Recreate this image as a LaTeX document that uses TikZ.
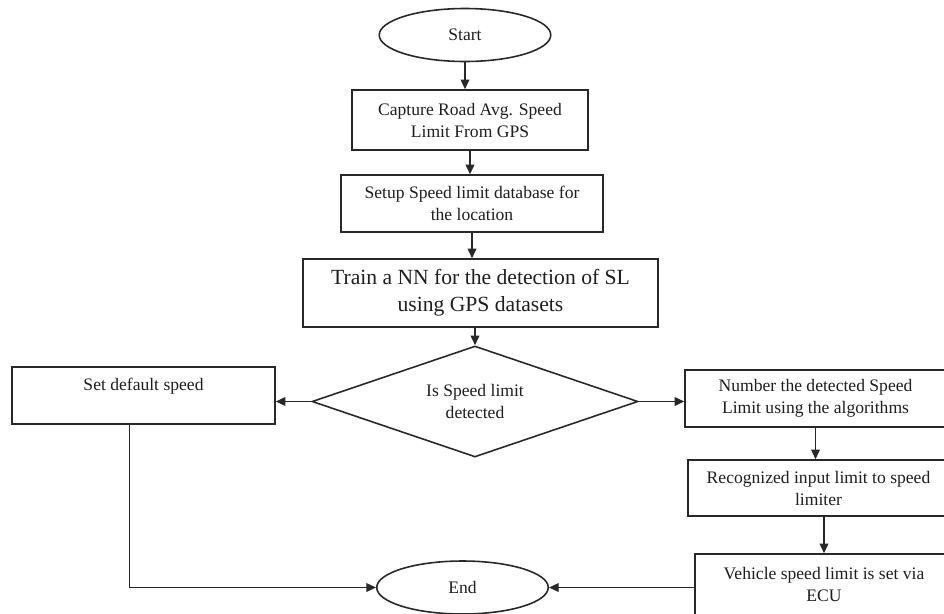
\documentclass[tikz,border=0pt]{standalone}
\usepackage{fontspec}
\setmainfont{Liberation Serif}
\usepackage{tikz}
\usetikzlibrary{shapes.geometric,positioning,arrows.meta,calc}
\definecolor{linegray}{RGB}{40,40,40}
\definecolor{textgray}{RGB}{30,30,30}

\begin{document}
\begin{tikzpicture}[
  stepbox/.style={rectangle, draw=linegray, line width=0.9pt,
    inner sep=0pt, align=center, text=textgray,
    font=\fontsize{10}{12.5}\selectfont},
  bigbox/.style={stepbox, font=\fontsize{12.3}{15.3}\selectfont},
  terminal/.style={ellipse, draw=linegray, line width=0.9pt,
    inner sep=0pt, text=textgray, font=\fontsize{10}{12.5}\selectfont,
    minimum width=3.43cm, minimum height=1.06cm},
  decision/.style={diamond, draw=linegray, line width=0.9pt,
    inner sep=0pt, shape aspect=2.9, align=center, text=textgray,
    font=\fontsize{10}{12.5}\selectfont},
  flow/.style={-{Triangle[length=5.5pt,width=5pt]}, linegray, line width=0.7pt},
  link/.style={linegray, line width=0.7pt},
]
  \useasboundingbox (0,0) rectangle (18.88,-12.26);

  % === MAIN COLUMN ===
  \node[terminal] (start) at (9.30,-0.70) {Start};
  \node[stepbox, minimum width=4.72cm, minimum height=1.20cm] (capture)
    at (9.40,-2.40) {Capture Road Avg. Speed\\Limit From GPS};
  \node[stepbox, minimum width=5.24cm, minimum height=1.14cm] (setup)
    at (9.44,-4.07) {Setup Speed limit database for\\the location};
  \node[bigbox, minimum width=7.10cm, minimum height=1.36cm] (train)
    at (9.61,-5.86) {Train a NN for the detection of SL\\using GPS datasets};

  % Decision
  \node[decision, minimum width=6.52cm, minimum height=2.22cm] (detect)
    at (9.50,-8.03) {Is Speed limit\\detected};

  % === LEFT BRANCH ===
  \node[stepbox, minimum width=5.26cm, minimum height=1.14cm, text depth=0.45cm]
    (default) at (2.87,-7.91) {Set default speed};

  % === RIGHT BRANCH ===
  \node[stepbox, minimum width=5.22cm, minimum height=1.14cm] (number)
    at (16.31,-7.97) {Number the detected Speed\\Limit using the algorithms};
  \node[stepbox, minimum width=5.22cm, minimum height=1.12cm] (recog)
    at (16.37,-9.76) {Recognized input limit to speed\\limiter};
  \node[stepbox, minimum width=5.16cm, minimum height=1.22cm] (vehicle)
    at (16.48,-11.69) {Vehicle speed limit is set via\\ECU};

  \node[terminal] (end) at (9.25,-11.75) {End};

  % === CONNECTORS ===
  \draw[flow] (start.south) -- (start.south |- capture.north);
  \draw[flow] (capture.south) -- (capture.south |- setup.north);
  \draw[flow] (setup.south) -- (setup.south |- train.north);
  \draw[flow] (train.south -| detect.north) -- (detect.north);
  \draw[flow] (detect.west) -- (detect.west -| default.east);
  \draw[flow] (detect.east) -- (detect.east -| number.west);
  \draw[flow] (number.south) -- (number.south |- recog.north);
  \draw[flow] (vehicle.north |- recog.south) -- (vehicle.north);
  \draw[flow] ([xshift=-0.28cm]default.south) |- (end.west);
  \draw[flow] (vehicle.west |- end.east) -- (end.east);
\end{tikzpicture}
\end{document}
